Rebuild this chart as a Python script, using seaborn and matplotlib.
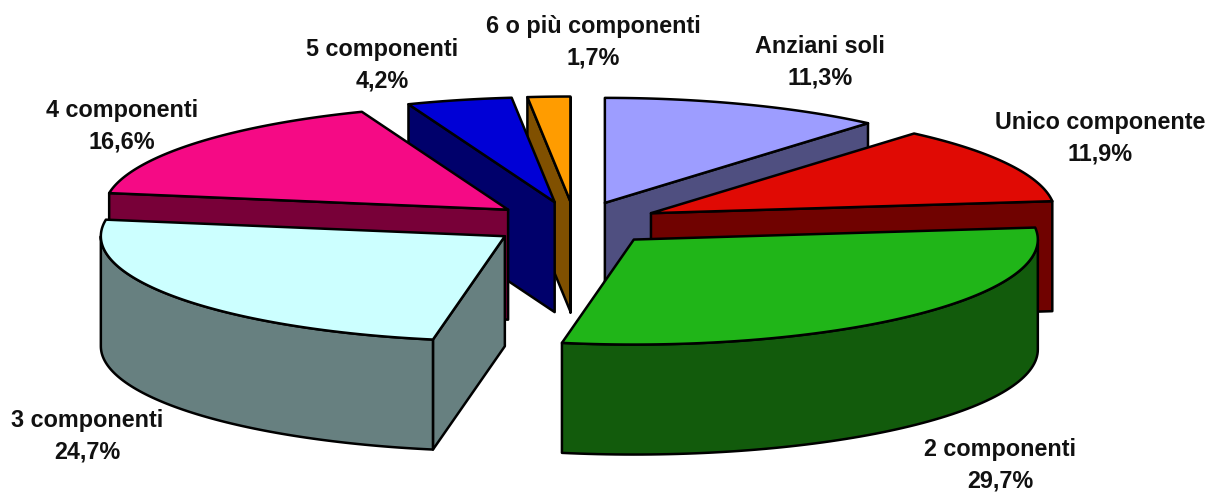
import numpy as np
import matplotlib
matplotlib.use("Agg")
import matplotlib.pyplot as plt
import seaborn as sns

# in ordine orario a partire da ore 12
categorie = ["Anziani soli", "Unico componente", "2 componenti", "3 componenti",
             "4 componenti", "5 componenti", "6 o più componenti"]
percentuali = [11.3, 11.9, 29.7, 24.7, 16.6, 4.2, 1.7]
colori = ["#9D9DFF", "#E00A04", "#20B518", "#CCFFFF", "#F50A85", "#0000D6", "#FF9C00"]
ombre = ["#4F4F80", "#700200", "#125B0C", "#678080", "#780038", "#00006B", "#805000"]

# centri delle etichette, in pixel
pos_etichette = [(820, 62), (1100, 138), (1000, 465), (87, 436), (122, 126), (382, 65), (593, 42)]

# geometria del disco
CX, CY = 575, 223.5
RX, RY = 404, 105
EX, EY = 86, 22
ALTEZZA = 110
# ordine di disegno (dal fondo verso il davanti)
ordine = [6, 5, 4, 3, 0, 1, 2]

sns.set_theme(style="white")
plt.rcParams['font.family'] = ['Liberation Sans', 'DejaVu Sans']

fig, ax = plt.subplots(figsize=(12.08, 4.92), dpi=100)
ax.set_position([0, 0, 1, 1])
ax.set_xlim(0, 1208)
ax.set_ylim(492, 0)
ax.set_xticks([])
ax.set_yticks([])
sns.despine(ax=ax, left=True, bottom=True)


def punto(c, ang, r=1.0):
    return c[0] + RX * r * np.sin(ang), c[1] - RY * r * np.cos(ang)


def faccia(xs, ys, colore):
    ax.fill(xs, ys, facecolor=colore, edgecolor="black", linewidth=1.8, joinstyle="round")


fine = np.cumsum(percentuali) / sum(percentuali) * 2 * np.pi
inizio = np.concatenate([[0], fine[:-1]])

for i in ordine:
    a0, a1 = inizio[i], fine[i]
    mid = (a0 + a1) / 2
    c = (CX + EX * np.sin(mid), CY - EY * np.cos(mid))

    # facce radiali visibili
    for ang, visibile in ((a0, np.sin(a0) < 0), (a1, np.sin(a1) > 0)):
        if visibile:
            x, y = punto(c, ang)
            faccia([c[0], x, x, c[0]], [c[1], y, y + ALTEZZA, c[1] + ALTEZZA], ombre[i])

    # parete esterna visibile
    w0, w1 = max(a0, np.pi / 2), min(a1, 3 * np.pi / 2)
    if w1 > w0:
        t = np.linspace(w0, w1, 80)
        x, y = punto(c, t)
        faccia(np.r_[x, x[::-1]], np.r_[y, y[::-1] + ALTEZZA], ombre[i])

    # faccia superiore
    t = np.linspace(a0, a1, 120)
    x, y = punto(c, t)
    faccia(np.r_[c[0], x], np.r_[c[1], y], colori[i])

for nome, val, (x, y) in zip(categorie, percentuali, pos_etichette):
    testo = nome + "\n" + f"{val:.1f}%".replace(".", ",")
    ax.text(x, y, testo, ha="center", va="center", fontsize=16.8, fontweight="bold",
            color="#111111", linespacing=1.45)

fig.savefig("out.png", dpi=100, facecolor="white")
